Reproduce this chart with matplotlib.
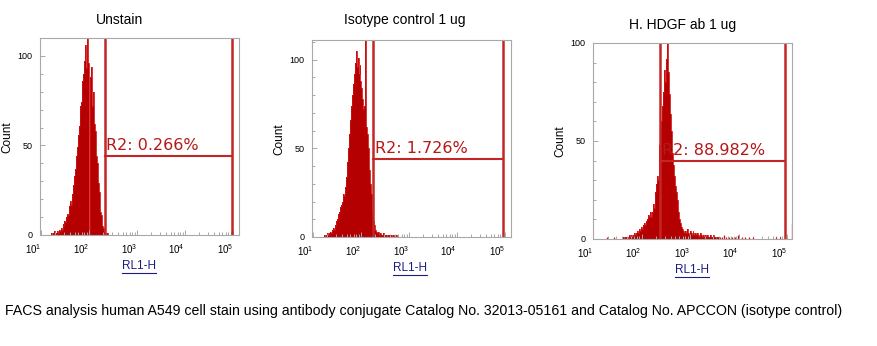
import numpy as np
import matplotlib
matplotlib.use('Agg')
import matplotlib.pyplot as plt
from matplotlib.lines import Line2D
from matplotlib.ticker import FixedLocator, NullFormatter

plt.rcParams['font.family'] = ['Liberation Sans', 'DejaVu Sans']
plt.rcParams['mathtext.fontset'] = 'custom'
plt.rcParams['mathtext.rm'] = 'Liberation Sans'
plt.rcParams['mathtext.default'] = 'regular'

W, H = 878, 346

titles = ['Unstain', 'Isotype control 1 ug', 'H. HDGF ab 1 ug']
gate_labels = ['R2: 0.266%', 'R2: 1.726%', 'R2: 88.982%']
gate_lo = [215, 180, 245]
gate_hi = [95000, 91000, 91000]
gate_level = [44, 44, 40]
x_axis_label = 'RL1-H'
y_axis_label = 'Count'
caption = ('FACS analysis human A549 cell stain using antibody conjugate '
           'Catalog No. 32013-05161 and Catalog No. APCCON (isotype control)')

# histogram channels are 0.02 decades wide, starting at the given log10 value
bin_step = 0.02

unstain_start = 1.20
unstain_counts = [
    0, 1, 0, 1, 2, 0, 1, 2, 1, 3, 2, 4, 3, 6, 5, 8, 7, 10, 12, 11,
    16, 19, 17, 23, 28, 33, 37, 44, 49, 56, 61, 72, 74, 86, 90, 97, 106, 93, 115, 98,
    96, 0, 88, 94, 72, 80, 62, 58, 44, 40, 29, 24, 13, 11, 5, 4, 2, 1, 0, 1, 0,
]

isotype_start = 1.24
isotype_counts = [
    1, 0, 1, 2, 1, 2, 3, 2, 4, 5, 4, 7, 6, 9, 10, 13, 14, 17, 18, 20,
    24, 23, 28, 34, 42, 50, 58, 66, 74, 80, 86, 92, 98, 105, 96, 101, 92, 97, 88, 84,
    78, 72, 74, 115, 62, 58, 50, 38, 30, 24, 14, 9, 7, 4, 3, 2, 3, 1, 2, 1,
    1, 2, 1, 0, 1, 1, 0, 1, 1, 0, 1, 0, 1, 0, 0, 1,
]

hdgf_start = 1.60
hdgf_counts = [
    0, 1, 0, 1, 0, 1, 1, 0, 2, 1, 2, 1, 2, 3, 2, 3, 4, 3, 5, 4,
    6, 5, 7, 8, 7, 9, 10, 12, 11, 14, 11, 14, 18, 16, 24, 28, 32, 30, 42, 48,
    55, 60, 68, 75, 86, 80, 92, 102, 85, 74, 64, 55, 44, 38, 32, 27, 24, 20, 14, 10,
    8, 6, 5, 4, 3, 4, 3, 5, 3, 2, 4, 3, 2, 4, 3, 2, 3, 2, 3, 2,
    1, 3, 2, 1, 2, 1, 2, 1, 2, 1, 1, 2, 1, 1, 2, 1, 1, 0, 1, 1, 0,
]
# isolated events outside the main population
hdgf_tail_log = [1.28, 1.43, 1.74, 3.62, 3.66, 3.70, 3.74, 3.80, 3.86, 3.92, 3.98,
                 4.06, 4.14, 4.22, 4.30, 4.78, 4.86, 5.09]
hdgf_tail_counts = [1, 1, 1, 1, 1, 2, 1, 1, 1, 1, 2, 1, 1, 1, 1, 1, 1, 8]

panels = [
    dict(box=(40, 38, 239, 235), xlog=(0.98, 5.125), ymax=110,
         start=unstain_start, counts=unstain_counts, tail=None,
         title_xy=(120, 20), count_xy=(7, 137), xlab_xy=(139, 266)),
    dict(box=(312, 40, 511, 237), xlog=(0.98, 5.125), ymax=111,
         start=isotype_start, counts=isotype_counts, tail=None,
         title_xy=(405, 20), count_xy=(279, 139), xlab_xy=(410, 268)),
    dict(box=(593, 43, 792, 239), xlog=(1.0, 5.10), ymax=100,
         start=hdgf_start, counts=hdgf_counts, tail=(hdgf_tail_log, hdgf_tail_counts),
         title_xy=(683, 25), count_xy=(560, 141), xlab_xy=(692, 270)),
]

FILL = '#b40000'
EDGE = '#d01010'
GATE = '#c42626'
LABEL = '#b51818'
SPINE = '#a8a8a8'
LINK = '#1c1c80'


def fig_xy(x, y):
    return x / W, 1 - y / H


fig = plt.figure(figsize=(W / 100, H / 100), dpi=100)
fig.patch.set_facecolor('white')
xlab_texts = []

for i, p in enumerate(panels):
    left, top, right, bottom = p['box']
    ax = fig.add_axes([left / W, 1 - bottom / H, (right - left) / W, (bottom - top) / H])
    ax.set_xscale('log')
    ax.set_xlim(10 ** p['xlog'][0], 10 ** p['xlog'][1])
    ax.set_ylim(0, p['ymax'])

    counts = np.array(p['counts'], dtype=float)
    edges = 10 ** (p['start'] + bin_step * (np.arange(len(counts) + 1) - 0.5))
    ax.stairs(counts, edges, fill=True, color=FILL, lw=0)
    ax.stairs(counts, edges, color=EDGE, lw=0.6)
    if p['tail'] is not None:
        tx, ty = p['tail']
        ax.vlines(10 ** np.array(tx), 0, ty, color=EDGE, lw=0.9)

    # region gate R2
    ax.axvline(gate_lo[i], color=GATE, lw=1.8)
    ax.axvline(gate_hi[i], color=GATE, lw=1.8)
    ax.plot([gate_lo[i], gate_hi[i]], [gate_level[i], gate_level[i]], color=GATE, lw=1.5)
    ax.annotate(gate_labels[i], xy=(gate_lo[i], gate_level[i]), xytext=(1, 2),
                textcoords='offset points', ha='left', va='bottom',
                color=LABEL, fontsize=11.5, family='DejaVu Sans')

    for s in ax.spines.values():
        s.set_color(SPINE)
        s.set_linewidth(0.8)

    decades = [10 ** k for k in range(1, 6)]
    ax.xaxis.set_major_locator(FixedLocator(decades))
    ax.set_xticklabels(['$10^{%d}$' % k for k in range(1, 6)])
    minors = [m * 10 ** k for k in range(1, 5) for m in range(2, 10)]
    ax.xaxis.set_minor_locator(FixedLocator(minors))
    ax.xaxis.set_minor_formatter(NullFormatter())
    ax.set_yticks([0, 50, 100])
    ax.yaxis.set_minor_locator(FixedLocator(range(0, int(p['ymax']) + 1, 10)))
    ax.tick_params(which='both', direction='in', color=SPINE, width=0.7)
    ax.tick_params(which='major', length=3.5)
    ax.tick_params(which='minor', length=2.2)
    ax.tick_params(axis='x', labelsize=7, pad=5)
    ax.tick_params(axis='y', labelsize=6.5, pad=5.5)
    for lab in ax.get_xticklabels():
        lab.set_horizontalalignment('right')

    fig.text(*fig_xy(*p['title_xy']), titles[i], ha='center', va='center', fontsize=10)
    fig.text(*fig_xy(*p['count_xy']), y_axis_label, ha='center', va='center',
             rotation=90, fontsize=8.5)
    xlab_texts.append(fig.text(*fig_xy(*p['xlab_xy']), x_axis_label, ha='center',
                               va='center', fontsize=8.5, color=LINK))

fig.text(5 / W, 1 - 311 / H, caption, ha='left', va='center', fontsize=10.2)

# underline the channel names
renderer = fig.canvas.get_renderer()
for t in xlab_texts:
    bb = t.get_window_extent(renderer)
    y = bb.y0 - 1
    fig.add_artist(Line2D([bb.x0 / W, bb.x1 / W], [y / H, y / H],
                          transform=fig.transFigure, color=LINK, lw=0.8))

fig.savefig('out.png', dpi=100)
